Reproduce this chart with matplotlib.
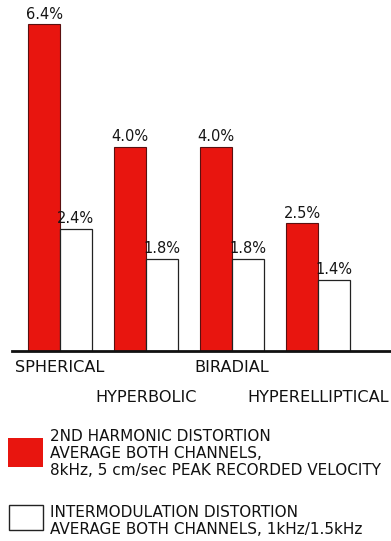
import matplotlib.pyplot as plt
from matplotlib.patches import Rectangle
from matplotlib.transforms import blended_transform_factory

# stylus shapes and measured distortion (%)
shapes = ['SPHERICAL', 'HYPERBOLIC', 'BIRADIAL', 'HYPERELLIPTICAL']
harmonic = [6.4, 4.0, 4.0, 2.5]
intermod = [2.4, 1.8, 1.8, 1.4]

legend_labels = [
    '2ND HARMONIC DISTORTION\nAVERAGE BOTH CHANNELS,\n8kHz, 5 cm/sec PEAK RECORDED VELOCITY',
    'INTERMODULATION DISTORTION\nAVERAGE BOTH CHANNELS, 1kHz/1.5kHz',
]

RED = '#e8150f'
W, H = 391, 541
plt.rcParams['font.family'] = ['DejaVu Sans']

fig = plt.figure(figsize=(W / 100, H / 100), dpi=100)
# axes placed in pixel units: baseline at y=351, from x=12 to the right edge
ax = fig.add_axes([12 / W, (H - 351) / H, 1 - 12 / W, 347 / H])

width = 0.37
xs = range(len(shapes))
ax.bar([x - width / 2 for x in xs], harmonic, width, color=RED,
       edgecolor='#5a1010', linewidth=0.8)
ax.bar([x + width / 2 for x in xs], intermod, width, color='white',
       edgecolor='#222222', linewidth=0.9)

for x, h, m in zip(xs, harmonic, intermod):
    ax.annotate(f'{h:.1f}%', (x - width / 2, h), xytext=(0, 2),
                textcoords='offset points', ha='center', va='bottom',
                fontsize=10.5, color='#151515')
    ax.annotate(f'{m:.1f}%', (x + width / 2, m), xytext=(0, 2),
                textcoords='offset points', ha='center', va='bottom',
                fontsize=10.5, color='#151515')

ax.set_xlim(-0.558, 3.849)
ax.set_ylim(0, 6.8)
for s in ['left', 'right', 'top']:
    ax.spines[s].set_visible(False)
ax.spines['bottom'].set_linewidth(2)
ax.spines['bottom'].set_color('#111111')
ax.set_xticks([])
ax.set_yticks([])

# staggered category names under the baseline
tr = blended_transform_factory(ax.transData, fig.transFigure)
for i, name in enumerate(shapes):
    ypix = 367 if i % 2 == 0 else 397
    fig.text(i, 1 - ypix / H, name, transform=tr, ha='center', va='center',
             fontsize=11.6, color='#111111')

# legend boxes and their captions
fig.add_artist(Rectangle((8 / W, 1 - 467 / H), 35 / W, 29 / H,
                         transform=fig.transFigure, facecolor=RED,
                         edgecolor='none'))
fig.add_artist(Rectangle((9 / W, 1 - 530 / H), 34 / W, 25 / H,
                         transform=fig.transFigure, facecolor='white',
                         edgecolor='#222222', linewidth=1))
fig.text(50 / W, 1 - 453.5 / H, legend_labels[0], ha='left', va='center',
         fontsize=11, linespacing=1.2, color='#111111')
fig.text(50 / W, 1 - 521 / H, legend_labels[1], ha='left', va='center',
         fontsize=11, linespacing=1.2, color='#111111')

fig.savefig('out.png', dpi=100)
